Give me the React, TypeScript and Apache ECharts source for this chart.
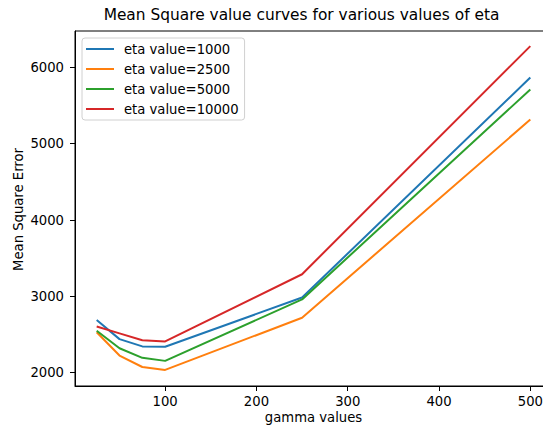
import React, { useEffect, useRef } from "react";
import * as echarts from "echarts";

const gammaValues = [25, 50, 75, 100, 250, 500];
const eta1000 = [2690, 2440, 2345, 2340, 2985, 5866];
const eta2500 = [2530, 2225, 2075, 2037, 2720, 5316];
const eta5000 = [2550, 2320, 2195, 2155, 2960, 5710];
const eta10000 = [2605, 2515, 2425, 2410, 3290, 6278];
const seriesNames = ["eta value=1000", "eta value=2500", "eta value=5000", "eta value=10000"];
const seriesColors = ["#1f77b4", "#ff7f0e", "#2ca02c", "#d62728"];
const xTicks = [100, 200, 300, 400, 500];
const yTicks = [2000, 3000, 4000, 5000, 6000];

const FONT = "DejaVu Sans";
const TICK_FS = 13.2;

export default function App() {
  const ref = useRef<HTMLDivElement>(null);
  useEffect(() => {
    if (!ref.current) return;
    const chart = echarts.init(ref.current, null, { renderer: "svg" });
    const all = [eta1000, eta2500, eta5000, eta10000];
    chart.setOption({
      animation: false,
      backgroundColor: "#ffffff",
      grid: {
        left: 75,
        top: 31,
        width: 477,
        height: 355,
        show: true,
        borderColor: "#000",
        borderWidth: 1,
        containLabel: false,
      },
      legend: {
        orient: "vertical",
        left: 82,
        top: 38,
        padding: [3, 6, 3, 4],
        itemGap: 4,
        itemWidth: 28,
        itemHeight: 2,
        icon: "rect",
        borderColor: "#d0d0d0",
        borderWidth: 1,
        borderRadius: 3,
        backgroundColor: "rgba(255,255,255,0.8)",
        textStyle: {
          fontFamily: FONT,
          fontSize: TICK_FS,
          color: "#000",
          lineHeight: 16,
          padding: [0, 0, 0, 5],
        },
        data: seriesNames.map((n, i) => ({ name: n, itemStyle: { color: seriesColors[i] } })),
      },
      xAxis: {
        type: "value",
        min: 1.25,
        max: 523.75,
        splitLine: { show: false },
        axisLine: { show: true, onZero: false, lineStyle: { color: "#000", width: 1 } },
        axisTick: { show: true, length: 5, lineStyle: { color: "#000" }, customValues: xTicks },
        axisLabel: {
          customValues: xTicks,
          formatter: (v: number) => String(v),
          fontFamily: FONT,
          fontSize: TICK_FS,
          color: "#000",
          margin: 9,
        },
      },
      yAxis: {
        type: "value",
        min: 1826,
        max: 6476,
        splitLine: { show: false },
        axisLine: { show: true, onZero: false, lineStyle: { color: "#000", width: 1 } },
        axisTick: { show: true, length: 5, lineStyle: { color: "#000" }, customValues: yTicks },
        axisLabel: {
          customValues: yTicks,
          formatter: (v: number) => String(v),
          fontFamily: FONT,
          fontSize: TICK_FS,
          color: "#000",
          margin: 11,
        },
      },
      series: all.map((vals, i) => ({
        name: seriesNames[i],
        type: "line",
        data: gammaValues.map((g, j) => [g, vals[j]]),
        showSymbol: false,
        symbol: "none",
        silent: true,
        color: seriesColors[i],
        lineStyle: { color: seriesColors[i], width: 2 },
      })),
      graphic: [
        {
          type: "text",
          x: 301.5,
          y: 15,
          style: {
            text: "Mean Square value curves for various values of eta",
            fontFamily: FONT,
            fontSize: 15.4,
            fill: "#000",
            textAlign: "center",
            textVerticalAlign: "middle",
          },
        },
        {
          type: "text",
          x: 313.5,
          y: 417,
          style: {
            text: "gamma values",
            fontFamily: FONT,
            fontSize: TICK_FS,
            fill: "#000",
            textAlign: "center",
            textVerticalAlign: "middle",
          },
        },
        {
          type: "text",
          x: 18.5,
          y: 209.5,
          rotation: Math.PI / 2,
          style: {
            text: "Mean Square Error",
            fontFamily: FONT,
            fontSize: TICK_FS,
            fill: "#000",
            textAlign: "center",
            textVerticalAlign: "middle",
          },
        },
      ],
    });
    return () => chart.dispose();
  }, []);
  return (
    <div
      style={{
        position: "fixed",
        left: 0,
        top: 0,
        width: 543,
        height: 429,
        overflow: "hidden",
        background: "#fff",
      }}
    >
      <div ref={ref} style={{ position: "absolute", left: 0, top: 0, width: 570, height: 429 }} />
    </div>
  );
}
